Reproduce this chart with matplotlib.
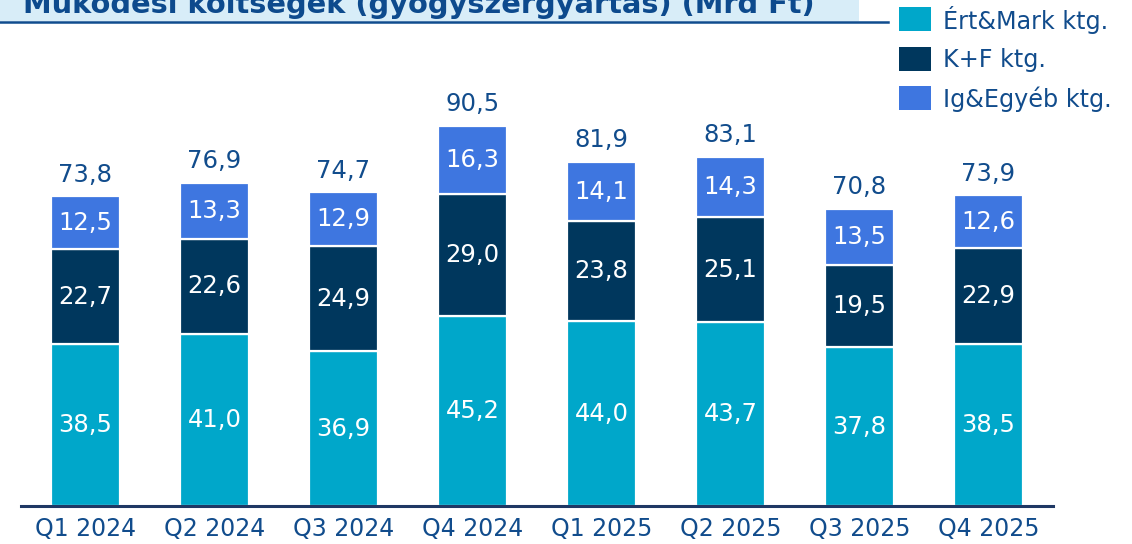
import matplotlib
matplotlib.use("Agg")
import matplotlib.pyplot as plt
from matplotlib.patches import Rectangle
import numpy as np

categories = ["Q1 2024", "Q2 2024", "Q3 2024", "Q4 2024", "Q1 2025", "Q2 2025", "Q3 2025", "Q4 2025"]
ert_mark = [38.5, 41.0, 36.9, 45.2, 44.0, 43.7, 37.8, 38.5]
kf = [22.7, 22.6, 24.9, 29.0, 23.8, 25.1, 19.5, 22.9]
ig_egyeb = [12.5, 13.3, 12.9, 16.3, 14.1, 14.3, 13.5, 12.6]
totals = [73.8, 76.9, 74.7, 90.5, 81.9, 83.1, 70.8, 73.9]
series_names = ["Ért&Mark ktg.", "K+F ktg.", "Ig&Egyéb ktg."]
title = "Működési költségek (gyógyszergyártás) (Mrd Ft)"

c_ert = "#00A7CA"
c_kf = "#00375D"
c_ig = "#3E76E0"
c_text = "#114C8C"
c_axis = "#1F3864"

plt.rcParams['font.family'] = ['DejaVu Sans']

W, H = 1132, 544
fig = plt.figure(figsize=(W / 100, H / 100), dpi=100)
ax = fig.add_axes([21 / W, (H - 506) / H, 1032 / W, 420 / H])

x = np.arange(len(categories))
bw = 0.54
series = [ert_mark, kf, ig_egyeb]
colors = [c_ert, c_kf, c_ig]
bottom = np.zeros(len(categories))
for vals, col in zip(series, colors):
    v = np.array(vals)
    ax.bar(x, v, bw, bottom=bottom, color=col, edgecolor="white", linewidth=1.6, zorder=2)
    for xi, b, val in zip(x, bottom, v):
        ax.text(xi, b + val / 2, f"{val:.1f}".replace(".", ","), ha="center", va="center",
                color="white", fontsize=17.5, zorder=3)
    bottom = bottom + v

for xi, t, b in zip(x, totals, bottom):
    ax.text(xi, b + 2.3, f"{t:.1f}".replace(".", ","), ha="center", va="bottom",
            color=c_text, fontsize=17.5)

ax.set_xlim(-0.5, 7.5)
ax.set_ylim(0, 100)
ax.set_yticks([])
ax.set_xticks(x)
ax.set_xticklabels(categories, fontsize=17, color=c_text)
ax.tick_params(axis="x", length=0, pad=8)
for s in ["top", "right", "left"]:
    ax.spines[s].set_visible(False)
ax.spines["bottom"].set_color(c_axis)
ax.spines["bottom"].set_linewidth(2.2)
ax.patch.set_alpha(0)

# title box
fig.patches.append(Rectangle((0, 1 - 21 / H), 859 / W, 21 / H, transform=fig.transFigure,
                             facecolor="#D8EDF8", edgecolor="none", zorder=0))
fig.add_artist(plt.Line2D([0, 888 / W], [1 - 22 / H, 1 - 22 / H], transform=fig.transFigure,
                          color="#0F4C8E", linewidth=1.8))
tt = fig.text(23 / W, 1 - 13 / H, title, fontsize=18, fontweight="bold", color="#0D4A8D",
              ha="left", va="baseline")
fig.canvas.draw()
ext = tt.get_window_extent()
tt.set_fontsize(18 * (817 - 23) / ext.width)

# legend
rows_y = [19, 59, 98]
for name, col, ry in zip(series_names, colors, rows_y):
    fig.patches.append(Rectangle((899 / W, 1 - (ry + 12) / H), 32 / W, 24 / H,
                                 transform=fig.transFigure, facecolor=col, edgecolor="none"))
    fig.text(943 / W, 1 - (ry + 1) / H, name, fontsize=17.2, color=c_text, ha="left", va="center")

fig.savefig("out.png", dpi=100)
